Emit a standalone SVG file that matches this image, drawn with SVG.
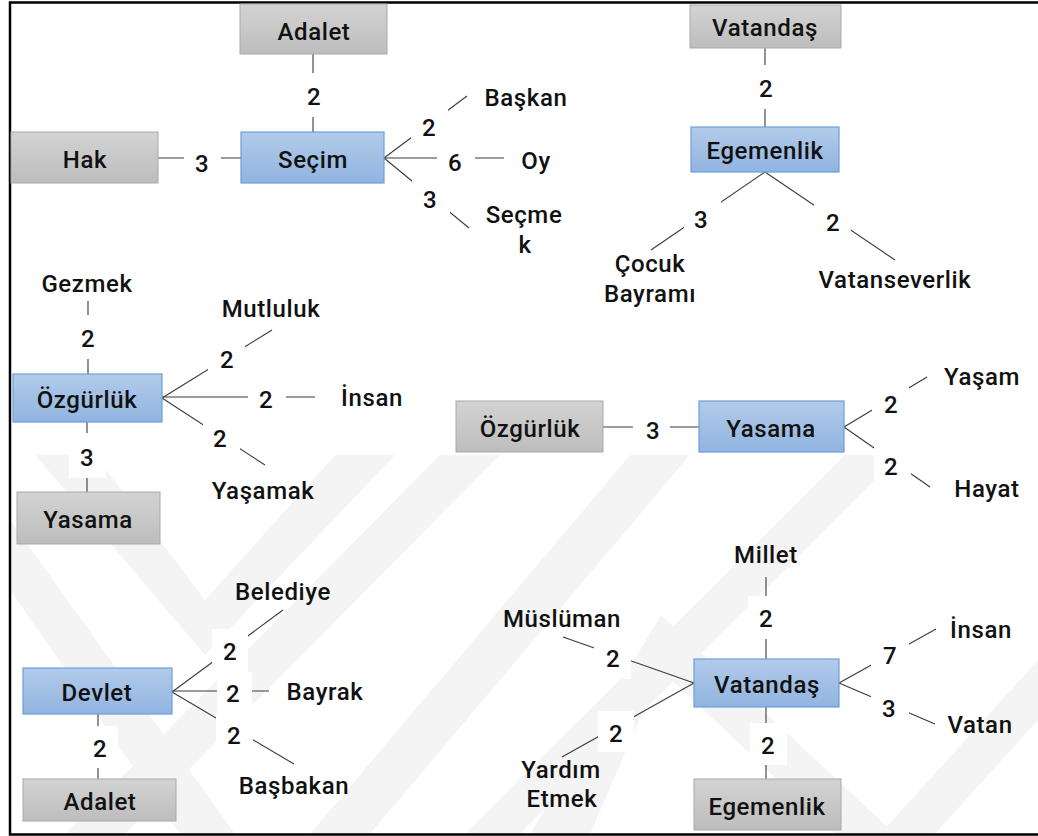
<svg xmlns="http://www.w3.org/2000/svg" width="1038" height="836" viewBox="0 0 1038 836">
  <defs>
    <linearGradient id="gGray" x1="0" y1="0" x2="0" y2="1">
      <stop offset="0" stop-color="#d3d3d3"/>
      <stop offset="1" stop-color="#bdbdbd"/>
    </linearGradient>
    <linearGradient id="gBlue" x1="0" y1="0" x2="0" y2="1">
      <stop offset="0" stop-color="#b2cbea"/>
      <stop offset="1" stop-color="#91b4e0"/>
    </linearGradient>
    <style>
      .gray { fill: url(#gGray); stroke: #a9a9a9; stroke-width: 1; }
      .blue { fill: url(#gBlue); stroke: #6d9fdb; stroke-width: 1.2; }
      text { font-family: Roboto, "Liberation Sans", "DejaVu Sans", sans-serif; font-size: 24px; font-weight: 500; letter-spacing: 0.6px; fill: #111; text-anchor: middle; }
      .c line { stroke: #3a3a3a; stroke-width: 1.1; }
      .lbl { fill: #ffffff; }
      .wm { fill: #f4f4f4; }
    </style>
  </defs>

  <rect width="1038" height="836" fill="#ffffff"/>

  <!-- faint background watermark bands -->
  <g id="watermark" class="wm">
    <polygon points="35,455 95,455 205,600 335,455 395,455 205,655"/>
    <polygon points="10,520 235,834 180,834 10,590"/>
    <polygon points="65,834 125,834 500,455 440,455"/>
    <polygon points="310,834 370,834 690,455 630,455"/>
    <polygon points="465,834 520,834 900,455 845,455"/>
    <polygon points="530,834 661,615 895,834 835,834 661,670 590,834"/>
    <polygon points="880,834 935,834 1038,720 1038,660"/>
  </g>

  <!-- frame -->
  <path d="M1040 2.5 H10 V834.5 H1040" fill="none" stroke="#000" stroke-width="2.5"/>

  <!-- connectors -->
  <g id="connectors" class="c">
    <!-- Seçim -->
    <line x1="313" y1="54" x2="313" y2="132"/>
    <line x1="158" y1="158" x2="241" y2="158"/>
    <line x1="384" y1="158" x2="467" y2="96"/>
    <line x1="384" y1="158" x2="504" y2="158"/>
    <line x1="384" y1="158" x2="469" y2="228"/>
    <!-- Egemenlik -->
    <line x1="765" y1="48" x2="765" y2="127"/>
    <line x1="765" y1="172" x2="651" y2="250"/>
    <line x1="765" y1="172" x2="895" y2="260"/>
    <!-- Özgürlük -->
    <line x1="88" y1="301" x2="88" y2="374"/>
    <line x1="87" y1="422" x2="87" y2="492"/>
    <line x1="162" y1="398" x2="272" y2="330"/>
    <line x1="162" y1="397" x2="315" y2="397"/>
    <line x1="162" y1="398" x2="265" y2="465"/>
    <!-- Yasama -->
    <line x1="603" y1="427" x2="699" y2="427"/>
    <line x1="844" y1="427" x2="927" y2="377"/>
    <line x1="844" y1="427" x2="930" y2="487"/>
    <!-- Devlet -->
    <line x1="172" y1="692" x2="283" y2="610"/>
    <line x1="172" y1="691" x2="269" y2="691"/>
    <line x1="172" y1="692" x2="294" y2="764"/>
    <line x1="98" y1="714" x2="98" y2="779"/>
    <!-- Vatandaş -->
    <line x1="766" y1="577" x2="766" y2="659"/>
    <line x1="766" y1="707" x2="766" y2="779"/>
    <line x1="694" y1="683" x2="563" y2="637"/>
    <line x1="694" y1="683" x2="562" y2="757"/>
    <line x1="839" y1="683" x2="936" y2="629"/>
    <line x1="839" y1="683" x2="935" y2="724"/>
  </g>

  <!-- edge weight labels -->
  <g id="weights">
    <rect class="lbl" x="295" y="73" width="37" height="44"/><text x="314" y="105">2</text>
    <rect class="lbl" x="184" y="140" width="37" height="44"/><text x="202" y="172">3</text>
    <rect class="lbl" x="411" y="107" width="37" height="43"/><text x="429" y="136">2</text>
    <rect class="lbl" x="437" y="138" width="38" height="43"/><text x="455" y="171">6</text>
    <rect class="lbl" x="412" y="180" width="38" height="42"/><text x="430" y="208">3</text>

    <rect class="lbl" x="747" y="65" width="37" height="44"/><text x="766" y="97">2</text>
    <rect class="lbl" x="684" y="198" width="37" height="43"/><text x="701" y="228">3</text>
    <rect class="lbl" x="814" y="200" width="37" height="43"/><text x="833" y="231">2</text>

    <rect class="lbl" x="69" y="315" width="37" height="44"/><text x="88" y="347">2</text>
    <rect class="lbl" x="69" y="433" width="37" height="45"/><text x="87" y="466">3</text>
    <rect class="lbl" x="208" y="339" width="37" height="43"/><text x="227" y="368">2</text>
    <rect class="lbl" x="248" y="376" width="38" height="43"/><text x="266" y="408">2</text>
    <rect class="lbl" x="203" y="418" width="37" height="43"/><text x="220" y="447">2</text>

    <rect class="lbl" x="633" y="406" width="37" height="43"/><text x="653" y="439">3</text>
    <rect class="lbl" x="872" y="383" width="37" height="43"/><text x="891" y="413">2</text>
    <rect class="lbl" x="874" y="446" width="37" height="43"/><text x="891" y="475">2</text>

    <rect class="lbl" x="212" y="629" width="36" height="43"/><text x="230" y="660">2</text>
    <rect class="lbl" x="217" y="672" width="35" height="42"/><text x="233" y="702">2</text>
    <rect class="lbl" x="216" y="714" width="37" height="42"/><text x="234" y="744">2</text>
    <rect class="lbl" x="82" y="726" width="36" height="42"/><text x="100" y="757">2</text>

    <rect class="lbl" x="748" y="596" width="37" height="43"/><text x="766" y="627">2</text>
    <rect class="lbl" x="750" y="723" width="37" height="42"/><text x="768" y="754">2</text>
    <rect class="lbl" x="594" y="637" width="37" height="42"/><text x="613" y="667">2</text>
    <rect class="lbl" x="598" y="711" width="36" height="41"/><text x="616" y="742">2</text>
    <rect class="lbl" x="871" y="636" width="38" height="43"/><text x="890" y="664">7</text>
    <rect class="lbl" x="871" y="687" width="38" height="43"/><text x="889" y="717">3</text>
  </g>

  <!-- Seçim cluster -->
  <g id="n-adalet-1"><rect class="gray" x="240" y="4" width="147" height="50"/><text x="314" y="40">Adalet</text></g>
  <g id="n-hak"><rect class="gray" x="11" y="132" width="147" height="51"/><text x="85" y="168">Hak</text></g>
  <g id="n-secim"><rect class="blue" x="241" y="132" width="143" height="51"/><text x="313" y="168">Seçim</text></g>
  <g id="n-baskan"><text x="526" y="106">Başkan</text></g>
  <g id="n-oy"><text x="536" y="169">Oy</text></g>
  <g id="n-secmek"><text x="524" y="223">Seçme</text><text x="525" y="253">k</text></g>

  <!-- Egemenlik cluster -->
  <g id="n-vatandas-1"><rect class="gray" x="690" y="5" width="151" height="43"/><text x="765" y="36">Vatandaş</text></g>
  <g id="n-egemenlik-1"><rect class="blue" x="691" y="127" width="148" height="45"/><text x="765" y="159">Egemenlik</text></g>
  <g id="n-cocuk"><text x="650" y="272">Çocuk</text><text x="650" y="302">Bayramı</text></g>
  <g id="n-vatanseverlik"><text x="895" y="288">Vatanseverlik</text></g>

  <!-- Özgürlük cluster -->
  <g id="n-gezmek"><text x="87" y="292">Gezmek</text></g>
  <g id="n-ozgurluk-1"><rect class="blue" x="13" y="374" width="149" height="48"/><text x="87" y="408">Özgürlük</text></g>
  <g id="n-yasama-1"><rect class="gray" x="17" y="492" width="143" height="52"/><text x="88" y="528">Yasama</text></g>
  <g id="n-mutluluk"><text x="271" y="317">Mutluluk</text></g>
  <g id="n-insan-1"><text x="372" y="406">İnsan</text></g>
  <g id="n-yasamak"><text x="263" y="499">Yaşamak</text></g>

  <!-- Yasama cluster -->
  <g id="n-ozgurluk-2"><rect class="gray" x="456" y="401" width="147" height="51"/><text x="530" y="437">Özgürlük</text></g>
  <g id="n-yasama-2"><rect class="blue" x="699" y="401" width="145" height="51"/><text x="771" y="437">Yasama</text></g>
  <g id="n-yasam"><text x="982" y="385">Yaşam</text></g>
  <g id="n-hayat"><text x="987" y="497">Hayat</text></g>

  <!-- Devlet cluster -->
  <g id="n-belediye"><text x="283" y="600">Belediye</text></g>
  <g id="n-devlet"><rect class="blue" x="23" y="668" width="149" height="46"/><text x="97" y="701">Devlet</text></g>
  <g id="n-bayrak"><text x="325" y="700">Bayrak</text></g>
  <g id="n-basbakan"><text x="294" y="794">Başbakan</text></g>
  <g id="n-adalet-2"><rect class="gray" x="23" y="779" width="153" height="42"/><text x="100" y="810">Adalet</text></g>

  <!-- Vatandaş cluster -->
  <g id="n-millet"><text x="766" y="563">Millet</text></g>
  <g id="n-muslueman"><text x="562" y="627">Müslüman</text></g>
  <g id="n-yardim"><text x="561" y="778">Yardım</text><text x="562" y="807">Etmek</text></g>
  <g id="n-vatandas-2"><rect class="blue" x="694" y="659" width="145" height="48"/><text x="767" y="693">Vatandaş</text></g>
  <g id="n-egemenlik-2"><rect class="gray" x="694" y="779" width="147" height="51"/><text x="767" y="815">Egemenlik</text></g>
  <g id="n-insan-2"><text x="981" y="638">İnsan</text></g>
  <g id="n-vatan"><text x="980" y="733">Vatan</text></g>
</svg>
